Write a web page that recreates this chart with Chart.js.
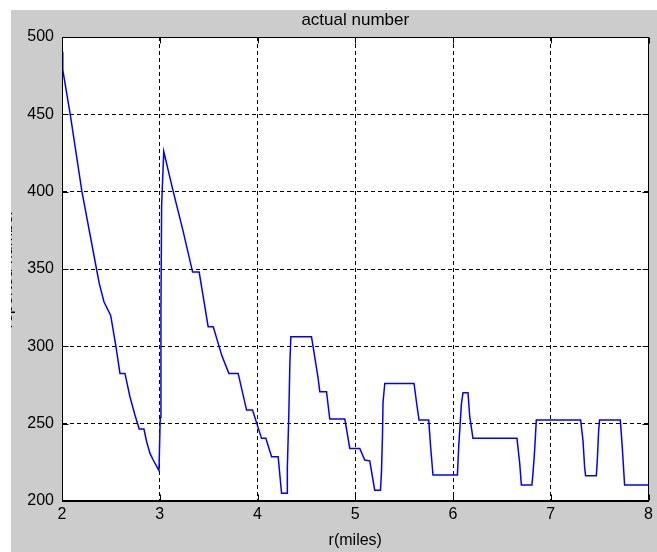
<!DOCTYPE html>
<html>
<head>
<meta charset="utf-8">
<script src="https://cdn.jsdelivr.net/npm/chart.js@4"></script>
<style>
  html, body { margin: 0; padding: 0; background: #ffffff; }
  #wrap { position: relative; width: 657px; height: 552px; }
  #plot { display: block; clip-path: inset(10px 0 0 11px); }
</style>
</head>
<body>
<div id="wrap"><canvas id="plot" width="657" height="552"></canvas></div>
<script>
// distance r (miles) and the counted number at each sample
const rMiles = [
  2.006, 2.008, 2.085, 2.204, 2.353, 2.381, 2.429, 2.498, 2.552, 2.593,
  2.644, 2.695, 2.746, 2.790, 2.838, 2.866, 2.900, 2.933, 2.992, 3.005,
  3.012, 3.019, 3.041, 3.138, 3.237, 3.336, 3.403, 3.495, 3.547, 3.635,
  3.707, 3.802, 3.888, 3.949, 4.041, 4.085, 4.144, 4.211, 4.246, 4.303,
  4.305, 4.320, 4.331, 4.341, 4.552, 4.569, 4.620, 4.637, 4.706, 4.739,
  4.893, 4.944, 5.046, 5.097, 5.148, 5.199, 5.258, 5.268, 5.278, 5.284,
  5.302, 5.601, 5.626, 5.652, 5.751, 5.772, 5.795, 6.045, 6.058, 6.086,
  6.102, 6.153, 6.171, 6.204, 6.654, 6.682, 6.699, 6.807, 6.818, 6.835,
  6.852, 7.305, 7.329, 7.346, 7.356, 7.466, 7.476, 7.489, 7.499, 7.711,
  7.731, 7.755, 8.000
];
const actualNumber = [
  490.5, 478.7, 449.6, 400.0, 350.0, 340.7, 328.8, 320.0, 299.8, 282.5,
  282.5, 267.4, 255.6, 246.5, 246.5, 238.3, 230.8, 226.5, 219.6, 254.0,
  323.0, 391.0, 426.0, 400.0, 375.0, 348.0, 348.0, 312.7, 312.7, 294.0,
  282.5, 282.5, 258.8, 258.8, 240.5, 240.5, 228.6, 228.6, 205.0, 205.0,
  221.3, 255.6, 289.0, 306.2, 306.2, 299.7, 279.3, 270.7, 270.7, 253.0,
  253.0, 234.0, 234.0, 226.5, 226.0, 207.0, 207.0, 219.0, 241.6, 264.0,
  276.0, 276.0, 264.0, 252.4, 252.4, 234.0, 216.8, 216.8, 235.0, 263.0,
  270.0, 270.0, 254.5, 240.5, 240.5, 224.4, 210.3, 210.3, 218.0, 233.0,
  252.4, 252.4, 239.4, 222.0, 216.4, 216.4, 226.5, 244.8, 252.4, 252.4,
  235.0, 210.3, 210.3
];
const xTickValues = [2, 3, 4, 5, 6, 7, 8];
const yTickValues = [200, 250, 300, 350, 400, 450, 500];

const points = rMiles.map((r, i) => ({ x: r, y: actualNumber[i] }));
const FONT = "'Liberation Sans', Arial, Helvetica, sans-serif";

// grey figure background, white axes box, solid frame and inward tick marks
const framePlugin = {
  id: 'frame',
  beforeDraw(chart) {
    const { ctx, chartArea: a } = chart;
    ctx.save();
    ctx.fillStyle = '#cccccc';
    ctx.fillRect(0, 0, chart.width, chart.height);
    ctx.fillStyle = '#ffffff';
    ctx.fillRect(a.left, a.top, a.right - a.left, a.bottom - a.top);
    ctx.restore();
  },
  afterDatasetsDraw(chart) {
    const { ctx, chartArea: a, scales } = chart;
    const L = Math.round(a.left) + 0.5, R = Math.round(a.right) - 0.5;
    const T = Math.round(a.top) + 0.5, B = Math.round(a.bottom) - 0.5;
    const len = 6;
    ctx.save();
    ctx.strokeStyle = '#000000';
    ctx.lineWidth = 1;
    ctx.setLineDash([]);
    ctx.beginPath();
    ctx.rect(L, T, R - L, B - T);
    xTickValues.forEach(v => {
      const px = Math.round(scales.x.getPixelForValue(v)) + 0.5;
      ctx.moveTo(px, B); ctx.lineTo(px, B - len);
      ctx.moveTo(px, T); ctx.lineTo(px, T + len);
    });
    yTickValues.forEach(v => {
      const py = Math.round(scales.y.getPixelForValue(v)) + 0.5;
      ctx.moveTo(L, py); ctx.lineTo(L + len, py);
      ctx.moveTo(R, py); ctx.lineTo(R - len, py);
    });
    ctx.stroke();
    ctx.restore();
  }
};

new Chart(document.getElementById('plot'), {
  type: 'line',
  data: {
    datasets: [{
      data: points,
      borderColor: '#0000ff',
      borderWidth: 1.5,
      pointRadius: 0,
      tension: 0,
      fill: false
    }]
  },
  options: {
    responsive: false,
    animation: false,
    devicePixelRatio: 1,
    layout: { padding: { left: 0, right: 8, top: 0, bottom: 0 } },
    plugins: {
      legend: { display: false },
      tooltip: { enabled: false },
      title: {
        display: true,
        fullSize: false,
        text: 'actual number',
        color: '#000000',
        font: { family: FONT, size: 17, weight: 'normal' },
        padding: { top: 10.3, bottom: 6.3 }
      }
    },
    scales: {
      x: {
        type: 'linear',
        min: 2, max: 8,
        afterBuildTicks: s => { s.ticks = xTickValues.map(v => ({ value: v })); },
        afterFit: s => { s.height = 51; },
        ticks: {
          color: '#000000',
          font: { family: FONT, size: 16 },
          padding: 4,
          maxRotation: 0
        },
        grid: { color: '#000000', lineWidth: 1, drawTicks: false },
        border: { display: true, color: '#000000', dash: [4, 3] },
        title: {
          display: true,
          text: 'r(miles)',
          color: '#000000',
          font: { family: FONT, size: 16 },
          padding: { top: 0, bottom: 1.4 }
        }
      },
      y: {
        type: 'linear',
        min: 200, max: 500,
        afterBuildTicks: s => { s.ticks = yTickValues.map(v => ({ value: v })); },
        afterFit: s => { s.width = 62; },
        ticks: {
          color: '#000000',
          font: { family: FONT, size: 16 },
          padding: 8
        },
        grid: { color: '#000000', lineWidth: 1, drawTicks: false },
        border: { display: true, color: '#000000', dash: [4, 3] },
        title: {
          display: true,
          text: 'reported number',
          color: '#000000',
          font: { family: FONT, size: 16, lineHeight: 1.0 },
          padding: { top: 0, bottom: 0 }
        }
      }
    }
  },
  plugins: [framePlugin]
});
</script>
</body>
</html>
